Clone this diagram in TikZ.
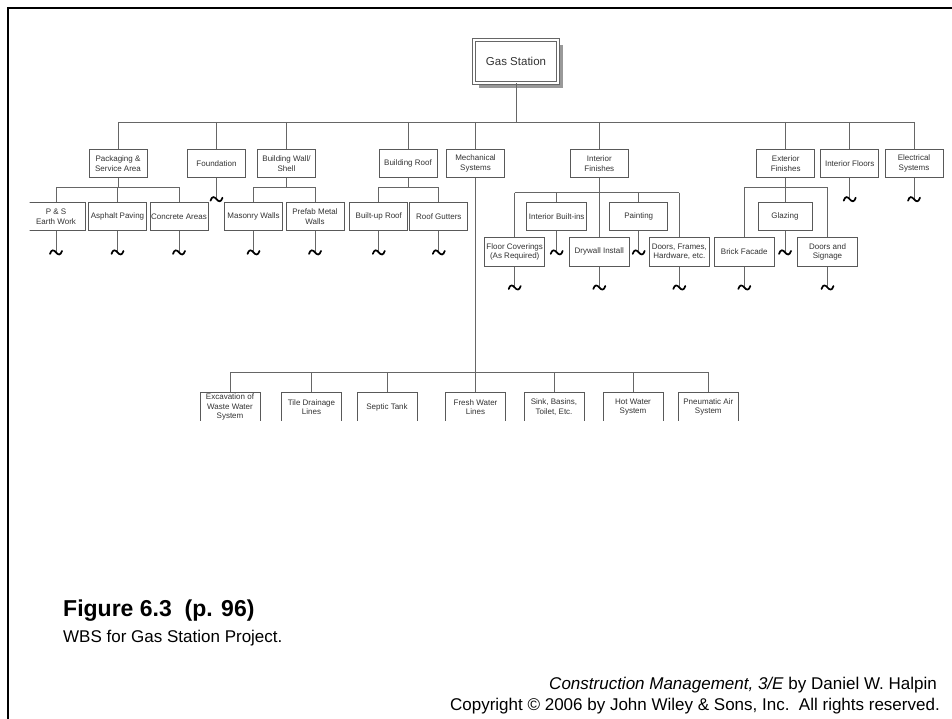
\documentclass[tikz,border=0pt]{standalone}
\usepackage{fontspec}
\setmainfont{Liberation Sans}
\usetikzlibrary{positioning, shadows}

\begin{document}
\begin{tikzpicture}[
  x=1pt, y=-1pt,
  every node/.style={font=\fontsize{8}{9.3}\selectfont, text=black!80},
  wbox/.style={draw=black!65, line width=0.9pt, fill=white, align=center,
    minimum width=58pt, minimum height=28.5pt, inner sep=1pt},
  rootbox/.style={draw=black!60, double=white, double distance=1.6pt,
    line width=0.9pt, fill=white, minimum width=84pt, minimum height=43pt,
    font=\fontsize{11.5}{13}\selectfont,
    drop shadow={shadow xshift=5pt, shadow yshift=-5pt, fill=black!40, opacity=1}},
  link/.style={draw=black!60, line width=0.9pt},
  tld/.pic={\draw[line width=1.7pt, line cap=round]
    (-6,1.5) .. controls (-4.5,-3.5) and (-2,-2.5) .. (0,0)
    .. controls (2,2.5) and (4.5,3.5) .. (6,-1.5);},
]
\useasboundingbox (0,0) rectangle (952,719);

%% ---- Slide frame ----
\draw[line width=2.7pt] (8,719) -- (8,8) -- (952,8);

%% ---- Root ----
\node[rootbox] (gas) at (516,61.5) {Gas Station};

%% ---- Level 1 ----
\node[wbox] (pkg)   at (118,163.5)   {Packaging \&\\Service Area};
\node[wbox] (found) at (216.5,163.5) {Foundation};
\node[wbox] (wall)  at (286.5,163.5) {Building Wall/\\Shell};
\node[wbox] (roof)  at (408,163.5)   {Building Roof};
\node[wbox] (mech)  at (475.5,163.5) {Mechanical\\Systems};
\node[wbox] (intf)  at (599.3,163.5) {Interior\\Finishes};
\node[wbox] (extf)  at (785.7,163.5) {Exterior\\Finishes};
\node[wbox] (intfl) at (849.7,163.5) {Interior Floors};
\node[wbox] (elec)  at (914,163.5)   {Electrical\\Systems};

\coordinate (gasbus) at (516,122);
\draw[link] (gas.south) -- (gasbus);
\draw[link] (pkg.north |- gasbus) -- (elec.north |- gasbus);
\foreach \n in {pkg,found,wall,roof,mech,intf,extf,intfl,elec}
  \draw[link] (\n.north |- gasbus) -- (\n.north);

%% ---- Level 2, upper row ----
\begin{scope}
  \clip (29.5,195) rectangle (100,240);
  \node[wbox] (ps) at (56,216.7) {P \& S\\Earth Work};
\end{scope}
\node[wbox] (asph)  at (117.5,216.7) {Asphalt Paving};
\node[wbox] (conc)  at (179,216.7)   {Concrete Areas};
\node[wbox] (mas)   at (253.5,216.7) {Masonry Walls};
\node[wbox] (pref)  at (315,216.7)   {Prefab Metal\\Walls};
\node[wbox] (bup)   at (378.8,216.7) {Built-up Roof};
\node[wbox] (rgut)  at (438.8,216.7) {Roof Gutters};
\node[wbox, minimum width=60pt] (ibi) at (556.7,216.7) {Interior Built-ins};
\node[wbox] (paint) at (638.7,216.7) {Painting};
\node[wbox, minimum width=54pt] (glaz) at (785,216.7) {Glazing};

%% ---- Level 2, lower row ----
\node[wbox, minimum width=60pt] (floor) at (514.7,251.8) {Floor Coverings\\(As Required)};
\node[wbox, minimum width=60pt] (dry)   at (599.3,251.8) {Drywall Install};
\node[wbox, minimum width=60pt] (dfh)   at (679.3,251.8) {Doors, Frames,\\Hardware, etc.};
\node[wbox, minimum width=60pt] (brick) at (744.3,251.8) {Brick Facade};
\node[wbox, minimum width=60pt] (dsig)  at (827.5,251.8) {Doors and\\Signage};

%% ---- Sub-trees ----
\coordinate (pkgbus) at (118,187.3);
\draw[link] (pkg.south) -- (pkgbus);
\draw[link] (ps.north |- pkgbus) -- (conc.north |- pkgbus);
\foreach \n in {ps,asph,conc}
  \draw[link] (\n.north |- pkgbus) -- (\n.north);

\coordinate (wallbus) at (286.5,187.3);
\draw[link] (wall.south) -- (wallbus);
\draw[link] (mas.north |- wallbus) -- (pref.north |- wallbus);
\foreach \n in {mas,pref}
  \draw[link] (\n.north |- wallbus) -- (\n.north);

\coordinate (roofbus) at (408,187.3);
\draw[link] (roof.south) -- (roofbus);
\draw[link] (bup.north |- roofbus) -- (rgut.north |- roofbus);
\foreach \n in {bup,rgut}
  \draw[link] (\n.north |- roofbus) -- (\n.north);

\coordinate (intfbus) at (599.3,192.7);
\draw[link] (intf.south) -- (intfbus);
\draw[link] (floor.north |- intfbus) -- (dfh.north |- intfbus);
\foreach \n in {floor,ibi,dry,paint,dfh}
  \draw[link] (\n.north |- intfbus) -- (\n.north);

\coordinate (extfbus) at (785.7,187.3);
\draw[link] (extf.south) -- (extfbus);
\draw[link] (brick.north |- extfbus) -- (dsig.north |- extfbus);
\foreach \n in {brick,glaz,dsig}
  \draw[link] (\n.north |- extfbus) -- (\n.north);

%% ---- Continuation marks ----
\foreach \n in {found,intfl,elec,ps,asph,conc,mas,pref,bup,rgut,
                ibi,paint,glaz,floor,dry,dfh,brick,dsig} {
  \coordinate[below=21pt of \n] (\n-cut);
  \draw[link] (\n.south) -- (\n-cut);
  \pic at (\n-cut) {tld};
}

%% ---- Mechanical systems (bottom row) ----
\begin{scope}
  \clip (0,380) rectangle (952,420.8);
  \node[wbox, minimum width=60pt, minimum height=30pt] (exc)   at (230,407)   {Excavation of\\Waste Water\\System};
  \node[wbox, minimum width=60pt, minimum height=30pt] (tile)  at (311.5,407) {Tile Drainage\\Lines};
  \node[wbox, minimum width=60pt, minimum height=30pt] (sept)  at (387,407)   {Septic Tank};
  \node[wbox, minimum width=60pt, minimum height=30pt] (fresh) at (475.5,407) {Fresh Water\\Lines};
  \node[wbox, minimum width=60pt, minimum height=30pt] (sink)  at (554,407)   {Sink, Basins,\\Toilet, Etc.};
  \node[wbox, minimum width=60pt, minimum height=30pt] (hot)   at (633,407)   {Hot Water\\System};
  \node[wbox, minimum width=60pt, minimum height=30pt] (pneu)  at (708.3,407) {Pneumatic Air\\System};
\end{scope}

\coordinate (mechbus) at (475.5,372);
\draw[link] (mech.south) -- (mechbus);
\draw[link] (exc.north |- mechbus) -- (pneu.north |- mechbus);
\foreach \n in {exc,tile,sept,fresh,sink,hot,pneu}
  \draw[link] (\n.north |- mechbus) -- (\n.north);

%% ---- Caption ----
\node[anchor=base west, inner sep=0, text=black,
  font=\fontsize{23}{26}\selectfont\bfseries] (figno) at (63,616)
  {Figure 6.3\ \ (p. 96)};
\node[anchor=base west, inner sep=0, text=black,
  font=\fontsize{17}{19}\selectfont] (figtitle) at (63,642)
  {WBS for Gas Station Project.};
\node[anchor=base east, inner sep=0, text=black,
  font=\fontsize{17}{19}\selectfont] (book) at (937,689)
  {\textit{Construction Management, 3/E} by Daniel W. Halpin};
\node[anchor=base east, inner sep=0, text=black,
  font=\fontsize{17}{19}\selectfont] (copy) at (940,710)
  {Copyright © 2006 by John Wiley \& Sons, Inc.\ \ All rights reserved.};

\end{tikzpicture}
\end{document}
